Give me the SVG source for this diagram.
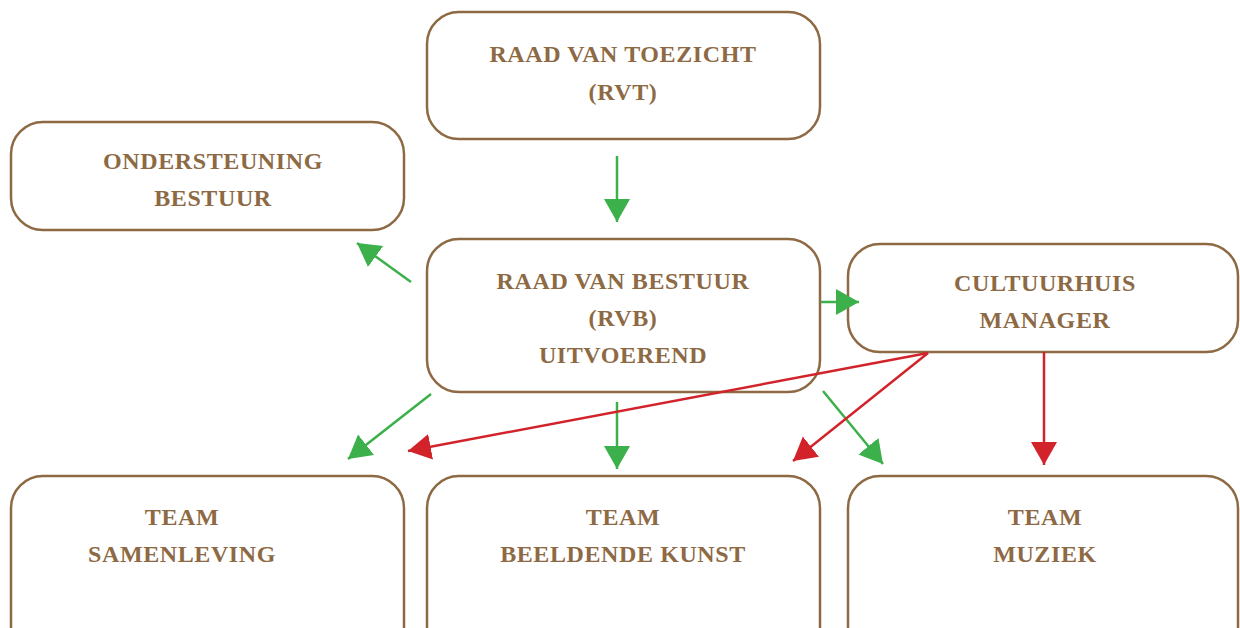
<svg xmlns="http://www.w3.org/2000/svg" width="1240" height="628" viewBox="0 0 1240 628">
<defs>
<style>
.box{fill:#ffffff;stroke:#8d6944;stroke-width:2.5}
.t{font-family:"Liberation Serif","Times New Roman",serif;font-weight:bold;font-size:24px;letter-spacing:0.6px;fill:#8d6944;text-anchor:middle}
.g{stroke:#3cb04a;stroke-width:2.5;fill:none}
.r{stroke:#d2232a;stroke-width:2.5;fill:none}
</style>
<marker id="ag" markerUnits="userSpaceOnUse" markerWidth="26" markerHeight="28" refX="23" refY="13" orient="auto">
<path d="M0,0 L23,13 L0,26 Z" fill="#3cb04a"/>
</marker>
<marker id="ar" markerUnits="userSpaceOnUse" markerWidth="26" markerHeight="28" refX="23" refY="13" orient="auto">
<path d="M0,0 L23,13 L0,26 Z" fill="#d2232a"/>
</marker>
</defs>
<rect width="1240" height="628" fill="#ffffff"/>
<g id="rvt">
<rect class="box" x="427" y="12" width="393" height="127" rx="32"/>
<text class="t" x="623" y="62">RAAD VAN TOEZICHT</text>
<text class="t" x="623" y="100">(RVT)</text>
</g>
<g id="ondersteuning">
<rect class="box" x="11" y="122" width="393" height="108" rx="32"/>
<text class="t" x="213" y="169">ONDERSTEUNING</text>
<text class="t" x="213" y="206">BESTUUR</text>
</g>
<g id="rvb">
<rect class="box" x="427" y="239" width="393" height="153" rx="32"/>
<text class="t" x="623" y="289">RAAD VAN BESTUUR</text>
<text class="t" x="623" y="326">(RVB)</text>
<text class="t" x="623" y="363">UITVOEREND</text>
</g>
<g id="cultuurhuis">
<rect class="box" x="848" y="244" width="390" height="108" rx="32"/>
<text class="t" x="1045" y="291">CULTUURHUIS</text>
<text class="t" x="1045" y="328">MANAGER</text>
</g>
<g id="team-samenleving">
<rect class="box" x="11" y="476" width="393" height="200" rx="32"/>
<text class="t" x="182" y="525">TEAM</text>
<text class="t" x="182" y="562">SAMENLEVING</text>
</g>
<g id="team-beeldende-kunst">
<rect class="box" x="427" y="476" width="393" height="200" rx="32"/>
<text class="t" x="623" y="525">TEAM</text>
<text class="t" x="623" y="562">BEELDENDE KUNST</text>
</g>
<g id="team-muziek">
<rect class="box" x="848" y="476" width="390" height="200" rx="32"/>
<text class="t" x="1045" y="525">TEAM</text>
<text class="t" x="1045" y="562">MUZIEK</text>
</g>
<g id="connectors">
<line class="g" x1="617" y1="156" x2="617" y2="222" marker-end="url(#ag)"/>
<line class="g" x1="411" y1="282" x2="357" y2="243" marker-end="url(#ag)"/>
<line class="g" x1="821" y1="302" x2="859" y2="302" marker-end="url(#ag)"/>
<line class="g" x1="431" y1="394" x2="348" y2="459" marker-end="url(#ag)"/>
<line class="g" x1="617" y1="402" x2="617" y2="469" marker-end="url(#ag)"/>
<line class="g" x1="823" y1="391" x2="883" y2="464" marker-end="url(#ag)"/>
<line class="r" x1="928" y1="353" x2="408" y2="451" marker-end="url(#ar)"/>
<line class="r" x1="928" y1="353" x2="793" y2="461" marker-end="url(#ar)"/>
<line class="r" x1="1044" y1="352" x2="1044" y2="465" marker-end="url(#ar)"/>
</g>
</svg>
